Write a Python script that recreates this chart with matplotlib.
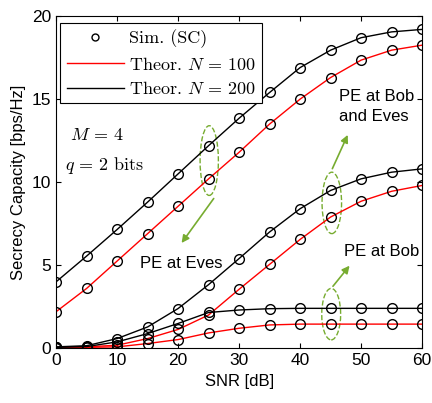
import numpy as np
import matplotlib.pyplot as plt
from matplotlib.patches import Ellipse

plt.rcParams['font.family'] = ['Liberation Sans', 'DejaVu Sans']
plt.rcParams['mathtext.fontset'] = 'cm'

snr = [0, 5, 10, 15, 20, 25, 30, 35, 40, 45, 50, 55, 60]

# PE at Eves
eves_n100 = [2.2, 3.6, 5.25, 6.9, 8.55, 10.2, 11.8, 13.5, 15.0, 16.3, 17.35, 17.95, 18.25]
eves_n200 = [4.0, 5.55, 7.15, 8.8, 10.5, 12.2, 13.85, 15.4, 16.9, 17.95, 18.7, 19.05, 19.2]
# PE at Bob and Eves
both_n100 = [0.05, 0.08, 0.18, 0.58, 1.13, 2.0, 3.55, 5.05, 6.55, 7.9, 8.85, 9.45, 9.8]
both_n200 = [0.08, 0.15, 0.58, 1.28, 2.39, 3.83, 5.4, 7.0, 8.4, 9.5, 10.2, 10.6, 10.8]
# PE at Bob
bob_n100 = [0.03, 0.05, 0.08, 0.28, 0.52, 0.92, 1.2, 1.4, 1.45, 1.45, 1.45, 1.45, 1.45]
bob_n200 = [0.05, 0.1, 0.38, 0.88, 1.49, 2.15, 2.3, 2.38, 2.4, 2.4, 2.4, 2.4, 2.4]

green = '#77AC30'

fig = plt.figure(figsize=(4.32, 4.03), dpi=100)
ax = fig.add_axes([0.13, 0.136, 0.847, 0.824])

for y in [eves_n100, both_n100, bob_n100]:
    ax.plot(snr, y, color='red', lw=1)
for y in [eves_n200, both_n200, bob_n200]:
    ax.plot(snr, y, color='black', lw=1)
for y in [eves_n100, eves_n200, both_n100, both_n200, bob_n100, bob_n200]:
    ax.plot(snr, y, 'o', mfc='none', mec='black', ms=7, mew=1)

# ellipses and arrows
for cx, cy, w, h in [(25.1, 11.3, 3.0, 4.2), (45.2, 8.75, 3.2, 3.7), (45.1, 2.05, 3.1, 3.1)]:
    ax.add_patch(Ellipse((cx, cy), w, h, fill=False, ec=green, ls='--', lw=1))
arrow = dict(arrowstyle='-|>', color=green, lw=1.2, mutation_scale=11)
ax.annotate('', xy=(20.3, 6.2), xytext=(26.1, 9.15), arrowprops=arrow)
ax.annotate('', xy=(48.0, 13.0), xytext=(45.1, 10.66), arrowprops=arrow)
ax.annotate('', xy=(48.4, 5.1), xytext=(45.1, 3.6), arrowprops=arrow)

ax.text(13.8, 5.1, 'PE at Eves', fontsize=12, va='center')
ax.text(46.4, 14.55, 'PE at Bob\nand Eves', fontsize=12, va='center', linespacing=1.4)
ax.text(47.2, 5.8, 'PE at Bob', fontsize=12, va='center')
ax.text(2.3, 12.8, r'$M\,=\,4$', fontsize=13, va='center')
ax.text(1.5, 11.0, r'$q\,=\,2\ \mathrm{bits}$', fontsize=13, va='center')

h_sim, = ax.plot([], [], 'o', mfc='none', mec='black', ms=5, mew=1)
h_100, = ax.plot([], [], color='red', lw=1)
h_200, = ax.plot([], [], color='black', lw=1)
leg = ax.legend([h_sim, h_100, h_200],
                ['Sim. (SC)', r'Theor. $N\,=\,100$', r'Theor. $N\,=\,200$'],
                loc='upper left', bbox_to_anchor=(0.011, 0.978), borderaxespad=0,
                fancybox=False, edgecolor='black', framealpha=1,
                handlelength=3.2, handletextpad=0.25, borderpad=0.35,
                labelspacing=0.4, prop={'family': 'cmr10', 'size': 13})
leg.get_frame().set_linewidth(0.8)

ax.set_xlim(0, 60)
ax.set_ylim(0, 20)
ax.set_xticks(range(0, 61, 10))
ax.set_yticks(range(0, 21, 5))
ax.tick_params(direction='in', top=True, right=True, labelsize=12.5)
ax.set_xlabel('SNR [dB]', fontsize=12)
ax.set_ylabel('Secrecy Capacity [bps/Hz]', fontsize=12)

fig.savefig('out.png', dpi=100)
